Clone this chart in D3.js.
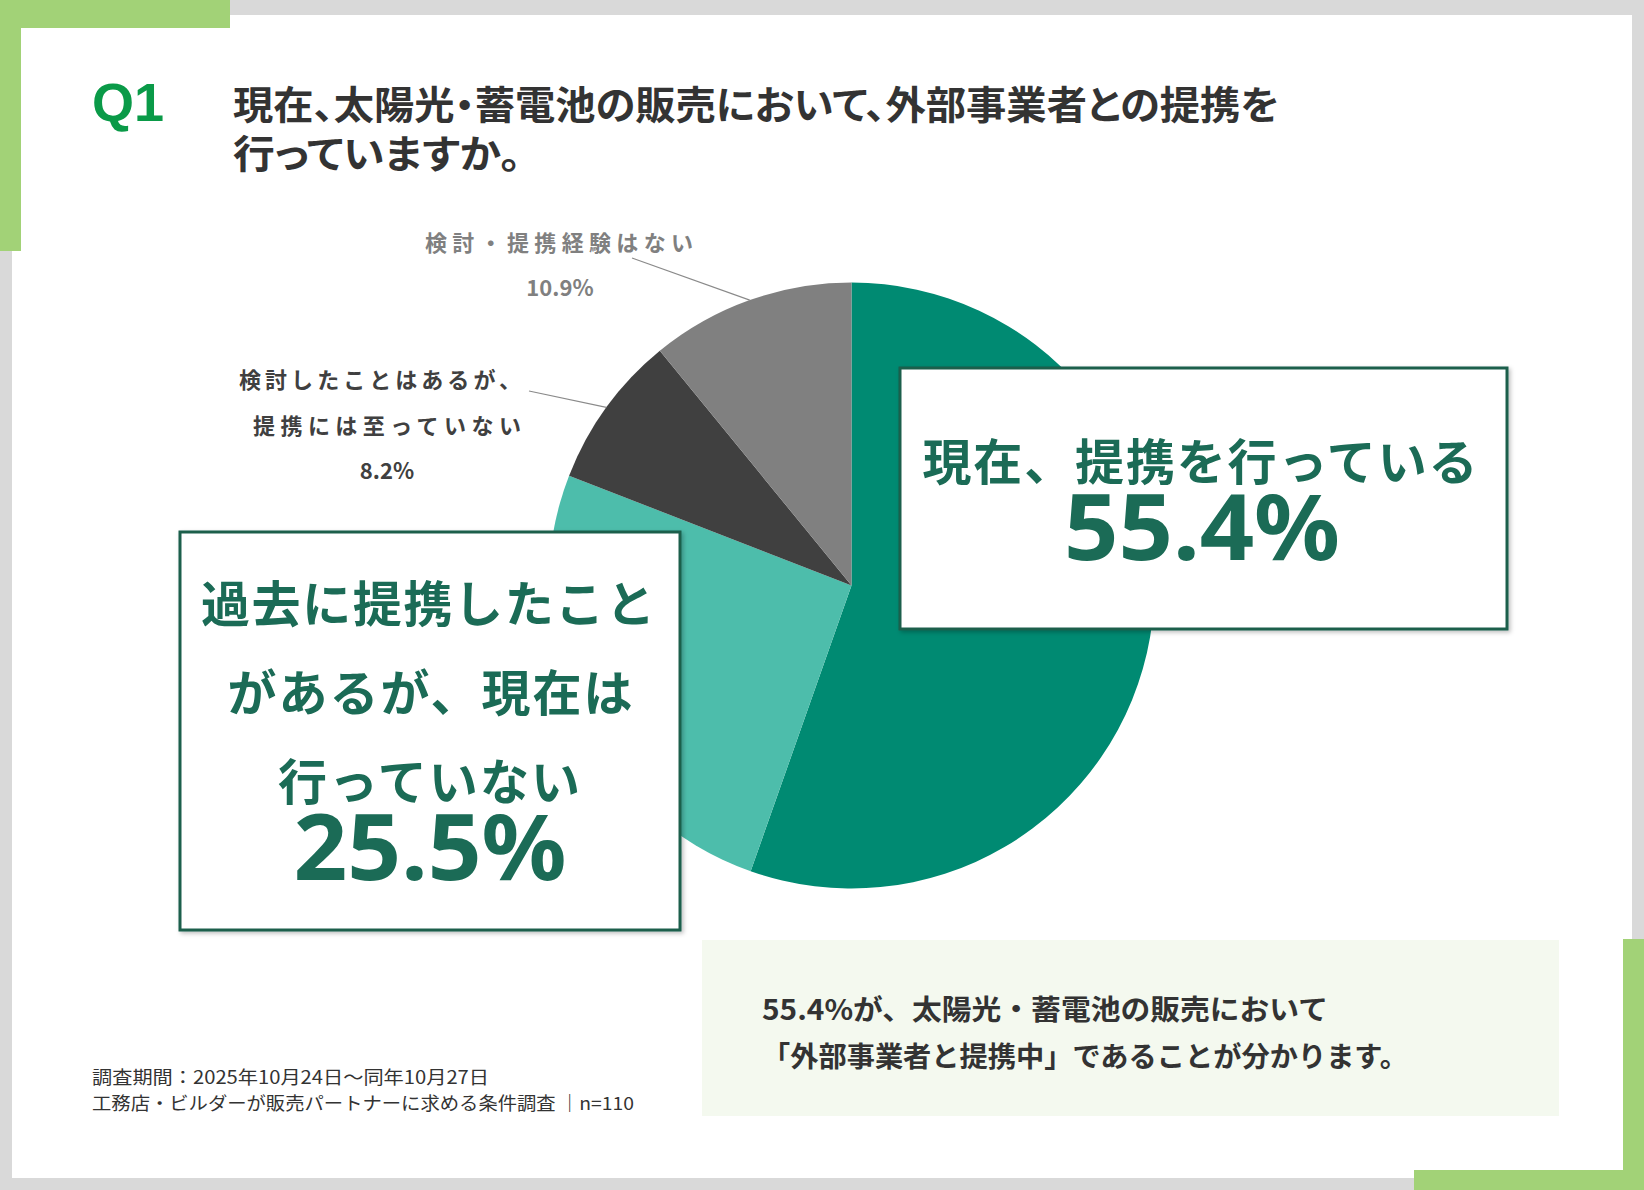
<!DOCTYPE html>
<html><head><meta charset="utf-8">
<script src="https://cdn.jsdelivr.net/npm/d3@7"></script>
<style>html,body{margin:0;padding:0;background:#fff;} svg{display:block}</style>
</head><body>
<script>
// ---------- data ----------
const categories = ["現在、提携を行っている", "過去に提携したことがあるが、現在は行っていない", "検討したことはあるが、提携には至っていない", "検討・提携経験はない"];
const values = [55.4, 25.5, 8.2, 10.9];
const titleLines = ["現在、太陽光・蓄電池の販売において、外部事業者との提携を", "行っていますか。"];
const questionLabel = "Q1";
const box1Lines = ["現在、提携を行っている"];
const box2Lines = ["過去に提携したこと", "があるが、現在は", "行っていない"];
const label3Lines = ["検討したことはあるが、", "提携には至っていない"];
const label4Lines = ["検討・提携経験はない"];
const footerLines = ["調査期間：2025年10月24日～同年10月27日", "工務店・ビルダーが販売パートナーに求める条件調査 ｜n=110"];
const summaryLines = ["55.4%が、太陽光・蓄電池の販売において", "「外部事業者と提携中」であることが分かります。"];

// ---------- style ----------
const W = 1644, H = 1190;
const sliceColors = ["#008a72", "#4dbdab", "#404040", "#808080"];
const JP = "'Noto Sans CJK JP', 'Noto Sans', sans-serif";
const boxGreen = "#1b6b56";
const frameGreen = "#a2d277";

const svg = d3.select("body").append("svg").attr("width", W).attr("height", H);
const defs = svg.append("defs");
const f = defs.append("filter").attr("id", "sh").attr("x", "-5%").attr("y", "-5%").attr("width", "115%").attr("height", "115%");
f.append("feDropShadow").attr("dx", 2).attr("dy", 2).attr("stdDeviation", 2).attr("flood-color", "#000").attr("flood-opacity", 0.25);

// frame
svg.append("rect").attr("width", W).attr("height", H).attr("fill", "#d9d9d9");
svg.append("rect").attr("x", 12).attr("y", 15).attr("width", 1620).attr("height", 1163).attr("fill", "#fff");
svg.append("rect").attr("x", 0).attr("y", 0).attr("width", 230).attr("height", 28).attr("fill", frameGreen);
svg.append("rect").attr("x", 0).attr("y", 0).attr("width", 21).attr("height", 251).attr("fill", frameGreen);
svg.append("rect").attr("x", 1623).attr("y", 939).attr("width", 21).attr("height", 251).attr("fill", frameGreen);
svg.append("rect").attr("x", 1414).attr("y", 1170).attr("width", 230).attr("height", 20).attr("fill", frameGreen);

// title
svg.append("text").text(questionLabel).attr("x", 92).attr("y", 121)
  .attr("font-family", "'Liberation Sans', Arial, sans-serif").attr("font-weight", 700)
  .attr("font-size", 54).attr("fill", "#0a9a48");
const titleLen = [1046, 288];
const titleY = [102, 151];
const titleText = svg.append("text")
  .attr("font-family", JP).attr("font-weight", 700).attr("font-size", 39)
  .style("font-feature-settings", "'palt'").attr("fill", "#333");
titleLines.forEach((t, i) => {
  titleText.append("tspan").text(t).attr("x", 233).attr("y", titleY[i])
    .attr("dominant-baseline", "central")
    .attr("textLength", titleLen[i]).attr("lengthAdjust", "spacingAndGlyphs");
});

// pie
const cx = 851.5, cy = 585.5, R = 303;
const pie = d3.pie().sort(null).value(d => d.value);
const arcs = pie(categories.map((c, i) => ({ cat: c, value: values[i] })));
const arc = d3.arc().innerRadius(0).outerRadius(R);
const g = svg.append("g").attr("transform", `translate(${cx},${cy})`);
g.selectAll("path").data(arcs).join("path").attr("d", arc).attr("fill", (d, i) => sliceColors[i]);

const fmt = v => d3.format(".1f")(v) + "%";
function edgePoint(a) {
  const m = (a.startAngle + a.endAngle) / 2;
  return [cx + R * Math.sin(m), cy - R * Math.cos(m)];
}

// small labels (slices 3 & 4)
function smallText(t, x, y, len, color, anchor) {
  const el = svg.append("text").text(t).attr("x", x).attr("y", y)
    .attr("dominant-baseline", "central").attr("text-anchor", anchor || "middle")
    .attr("font-family", JP).attr("font-weight", 700).attr("font-size", 22).attr("fill", color);
  if (len) el.attr("textLength", len).attr("lengthAdjust", "spacing");
  return el;
}
// slice 4 (10.9%)
smallText(label4Lines[0], 559, 241, 268, "#808080");
smallText(fmt(values[3]), 560, 286, null, "#808080");
// slice 3 (8.2%)
smallText(label3Lines[0], 521, 377.5, 282, "#404040", "end");
smallText(label3Lines[1], 521, 423.5, 268, "#404040", "end");
smallText(fmt(values[2]), 387, 468.5, null, "#404040");

const p4 = edgePoint(arcs[3]);
const p3 = edgePoint(arcs[2]);
svg.append("line").attr("x1", 632).attr("y1", 258).attr("x2", p4[0]).attr("y2", p4[1])
  .attr("stroke", "#8a8a8a").attr("stroke-width", 1.2);
svg.append("line").attr("x1", 529).attr("y1", 391).attr("x2", p3[0]).attr("y2", p3[1])
  .attr("stroke", "#8a8a8a").attr("stroke-width", 1.2);

// big boxes
function box(x, y, w, h) {
  svg.append("rect").attr("x", x).attr("y", y).attr("width", w).attr("height", h)
    .attr("fill", "#fff").attr("stroke", "#1d5e4c").attr("stroke-width", 3).attr("filter", "url(#sh)");
}
function boxLabel(lines, xs, ys, lens, v, px, pyBase, plen) {
  const t = svg.append("text").attr("text-anchor", "middle").attr("fill", boxGreen)
    .attr("font-family", JP).attr("font-weight", 700);
  lines.forEach((s, i) => {
    t.append("tspan").text(s).attr("x", xs[i]).attr("y", ys[i])
      .attr("dominant-baseline", "central").attr("font-size", 49)
      .attr("textLength", lens[i]).attr("lengthAdjust", "spacing");
  });
  t.append("tspan").text(fmt(v)).attr("x", px).attr("y", pyBase)
    .attr("dominant-baseline", "alphabetic")
    .attr("font-family", "'Noto Sans', 'Open Sans', sans-serif").attr("font-size", 92)
    .attr("textLength", plen).attr("lengthAdjust", "spacingAndGlyphs");
}
// box 1
box(900, 368, 607, 261);
boxLabel(box1Lines, [1200], [458], [555], values[0], 1202, 560, 276);
// box 2
box(180, 532, 500, 398);
boxLabel(box2Lines, [428, 430, 429], [600, 689, 778], [454, 405, 302], values[1], 430, 880, 273);

// footer
const footLen = [397, 542], footY = [1076, 1102];
footerLines.forEach((t, i) => {
  svg.append("text").text(t).attr("x", 92).attr("y", footY[i])
    .attr("dominant-baseline", "central")
    .attr("font-family", JP).attr("font-weight", 400).attr("font-size", 18).attr("fill", "#333")
    .attr("textLength", footLen[i]).attr("lengthAdjust", "spacingAndGlyphs");
});

// summary box
svg.append("rect").attr("x", 702).attr("y", 940).attr("width", 857).attr("height", 176).attr("fill", "#f4f9ef");
const sumLen = [566, 646], sumY = [1008, 1055];
summaryLines.forEach((t, i) => {
  svg.append("text").text(t).attr("x", 762).attr("y", sumY[i])
    .attr("dominant-baseline", "central")
    .attr("font-family", JP).attr("font-weight", 700).attr("font-size", 28).attr("fill", "#333")
    .attr("textLength", sumLen[i]).attr("lengthAdjust", "spacingAndGlyphs");
});
</script>
</body></html>
